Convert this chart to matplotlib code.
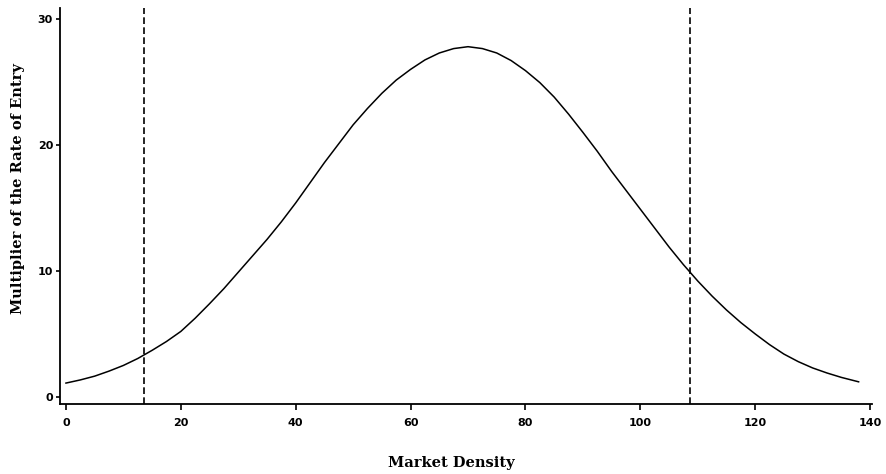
import matplotlib
matplotlib.use('Agg')
import matplotlib.pyplot as plt

# market density vs multiplier of the entry rate
density = [0, 2.5, 5, 7.5, 10, 12.5, 15, 17.5, 20, 22.5, 25, 27.5, 30, 32.5, 35, 37.5,
           40, 42.5, 45, 47.5, 50, 52.5, 55, 57.5, 60, 62.5, 65, 67.5, 70,
           72.5, 75, 77.5, 80, 82.5, 85, 87.5, 90, 92.5, 95, 97.5, 100, 102.5,
           105, 107.5, 110, 112.5, 115, 117.5, 120, 122.5, 125, 127.5, 130, 132.5,
           135, 138]
multiplier = [1.1, 1.35, 1.65, 2.05, 2.5, 3.05, 3.7, 4.4, 5.2, 6.25, 7.4, 8.6, 9.9, 11.2, 12.5, 13.9,
              15.4, 17.0, 18.6, 20.1, 21.6, 22.9, 24.1, 25.15, 26.0, 26.75, 27.3, 27.65, 27.8,
              27.65, 27.3, 26.7, 25.9, 24.95, 23.8, 22.45, 21.0, 19.5, 17.9, 16.4, 14.9, 13.4,
              11.9, 10.5, 9.2, 8.0, 6.9, 5.9, 5.0, 4.15, 3.4, 2.8, 2.3, 1.9,
              1.55, 1.2]
bounds = [13.6, 108.7]
xticks = [0, 20, 40, 60, 80, 100, 120, 140]
yticks = [0, 10, 20, 30]

fig = plt.figure(figsize=(8.86, 4.74), dpi=100)
ax = fig.add_axes([0.0677, 0.1477, 0.9163, 0.8354])

ax.plot(density, multiplier, color='black', lw=1.1)
for b in bounds:
    ax.axvline(b, color='black', lw=1.2, linestyle=(0, (4, 2)))

ax.set_xlim(-1.04, 140.3)
ax.set_ylim(-0.56, 30.87)
ax.set_xticks(xticks)
ax.set_yticks(yticks)

for s in ['top', 'right']:
    ax.spines[s].set_visible(False)
for s in ['left', 'bottom']:
    ax.spines[s].set_linewidth(1.3)

ax.tick_params(axis='x', direction='out', length=4, width=1.2, pad=6, labelsize=8)
ax.tick_params(axis='y', direction='out', length=3, width=1.2, pad=2, labelsize=8)
for lab in ax.get_xticklabels() + ax.get_yticklabels():
    lab.set_fontweight('bold')

ax.set_xlabel('Market Density', family='DejaVu Serif', fontweight='bold', fontsize=10.5)
ax.set_ylabel('Multiplier of the Rate of Entry', family='DejaVu Serif', fontweight='bold', fontsize=10.5)
ax.xaxis.set_label_coords(0.4815, -0.131)
ax.yaxis.set_label_coords(-0.043, 0.545)

fig.savefig('out.png', dpi=100)
